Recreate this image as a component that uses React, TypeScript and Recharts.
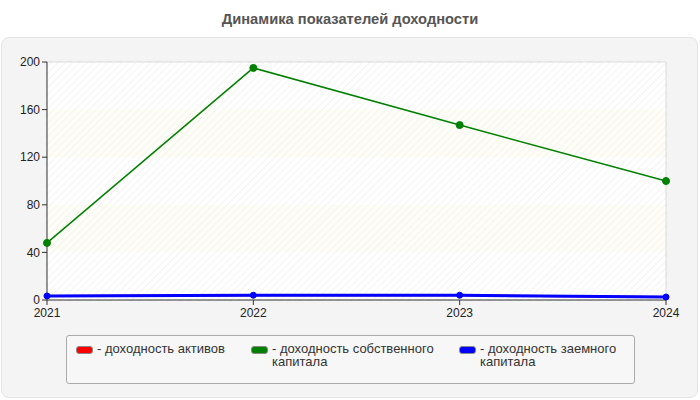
import React from "react"
import { LineChart, Line, XAxis, YAxis, CartesianGrid, ReferenceArea, ReferenceLine } from "recharts"

const years = ["2021", "2022", "2023", "2024"]
const assetsReturn = [3.4, 4, 4, 2.5]
const equityReturn = [48, 195, 147, 100]
const debtReturn = [3.4, 4, 4, 2.5]
const yTicks = [0, 40, 80, 120, 160, 200]

const data = years.map((year, i) => ({
  year,
  assets: assetsReturn[i],
  equity: equityReturn[i],
  debt: debtReturn[i],
}))

const legendItems = [
  { name: "- доходность активов", color: "#ff0000", left: 76, textWidth: 150 },
  { name: "- доходность собственного капитала", color: "#008000", left: 251, textWidth: 175 },
  { name: "- доходность заемного капитала", color: "#0000ff", left: 459, textWidth: 160 },
]

const font = "'Liberation Sans', Arial, sans-serif"

export default function App() {
  return (
    <div style={{ position: "fixed", left: 0, top: 0, width: 700, height: 400, background: "#fff", fontFamily: font }}>
      <svg width="0" height="0" style={{ position: "absolute" }}>
        <defs>
          <pattern id="hatch" width="5" height="5" patternUnits="userSpaceOnUse" patternTransform="rotate(45)">
            <line x1="0" y1="0" x2="0" y2="5" stroke="#ececec" strokeWidth="1.2" />
          </pattern>
        </defs>
      </svg>
      <div style={{ position: "absolute", left: 0, top: 11, width: 700, textAlign: "center", fontSize: 14.7, fontWeight: "bold", color: "#555" }}>
        Динамика показателей доходности
      </div>
      <div style={{ position: "absolute", left: 1, top: 37, width: 695, height: 359, background: "#f4f4f4", border: "1px solid #e4e4e4", borderRadius: 8 }} />
      <div style={{ position: "absolute", left: 0, top: 0 }}>
        <LineChart width={700} height={400} data={data} margin={{ top: 62, right: 34, bottom: 80, left: 7 }}>
          <ReferenceArea y1={0} y2={200} fill="#ffffff" fillOpacity={1} stroke="none" />
          <ReferenceArea y1={40} y2={80} fill="#fefef7" fillOpacity={1} stroke="none" />
          <ReferenceArea y1={120} y2={160} fill="#fefef7" fillOpacity={1} stroke="none" />
          <ReferenceArea y1={0} y2={200} fill="url(#hatch)" fillOpacity={1} stroke="none" />
          <CartesianGrid stroke="#dddddd" strokeDasharray="5 5" />
          <ReferenceLine y={200} stroke="#dddddd" />
          <ReferenceLine x="2024" stroke="#dddddd" />
          <XAxis
            dataKey="year"
            height={20}
            tick={{ fill: "#222", fontSize: 12, fontFamily: font }}
            tickSize={5}
            tickMargin={3}
            axisLine={{ stroke: "#333" }}
            tickLine={{ stroke: "#333" }}
          />
          <YAxis
            domain={[0, 200]}
            ticks={yTicks}
            width={40}
            tick={{ fill: "#222", fontSize: 12, fontFamily: font }}
            tickSize={5}
            axisLine={{ stroke: "#333" }}
            tickLine={{ stroke: "#333" }}
          />
          <Line dataKey="assets" stroke="#ff0000" strokeWidth={2} dot={{ r: 2.5, fill: "#ff0000", stroke: "none" }} isAnimationActive={false} />
          <Line dataKey="equity" stroke="#008000" strokeWidth={1.5} dot={{ r: 3.5, fill: "#008000", stroke: "#008000", strokeWidth: 1 }} isAnimationActive={false} />
          <Line dataKey="debt" stroke="#0000ff" strokeWidth={3} dot={{ r: 3, fill: "#0000ff", stroke: "#0000ff", strokeWidth: 1 }} isAnimationActive={false} />
        </LineChart>
      </div>
      <div style={{ position: "absolute", left: 66, top: 335, width: 567, height: 47, background: "#f7f7f7", border: "1px solid #aaa", borderRadius: 3 }}>
        {legendItems.map((item) => (
          <div key={item.name} style={{ position: "absolute", left: item.left - 67, top: 6, display: "flex", alignItems: "flex-start" }}>
            <span style={{ display: "inline-block", width: 15, height: 6, marginTop: 4, background: item.color, border: "1px solid #888", borderRadius: 3 }} />
            <span style={{ marginLeft: 4, width: item.textWidth, fontSize: 13, lineHeight: "13px", color: "#333" }}>{item.name}</span>
          </div>
        ))}
      </div>
    </div>
  )
}
